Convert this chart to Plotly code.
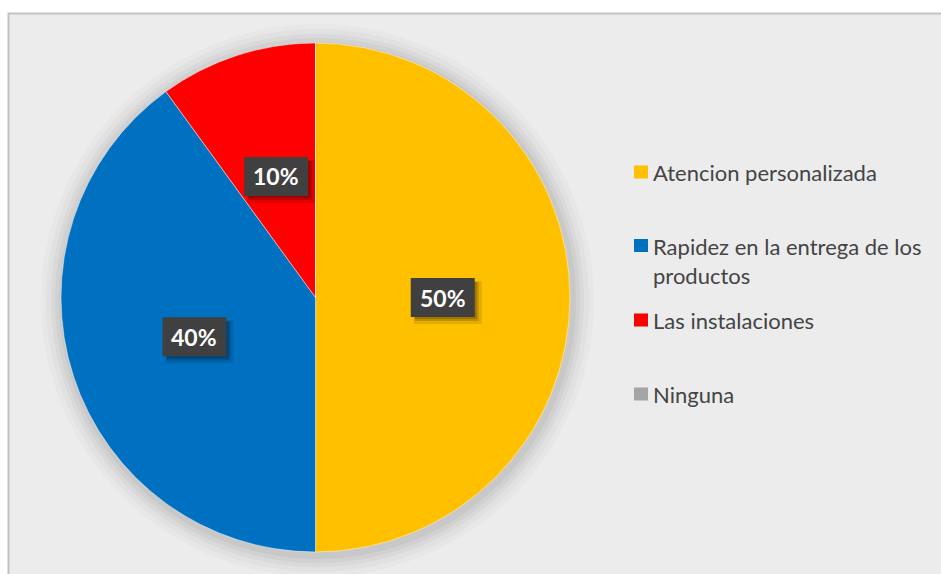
import numpy as np
import plotly.graph_objects as go

# Survey answers and their shares
categories = ["Atencion personalizada", "Rapidez en la entrega de los productos",
              "Las instalaciones", "Ninguna"]
legend_text = ["Atencion personalizada", "Rapidez en la entrega de los<br>productos",
               "Las instalaciones", "Ninguna"]
shares = [50, 40, 10, 0]
colors = ["#FFC000", "#0070C0", "#FF0000", "#A5A5A5"]

W, H = 941, 574
FONT = "Lato, 'Open Sans', sans-serif"

# pie geometry in pixels
cx, cy, R = 315.5, 297.5, 254.5


def px(x):
    return x / W


def py(y):
    return 1 - y / H


fig = go.Figure()
fig.add_trace(go.Pie(
    labels=categories,
    values=shares,
    marker=dict(colors=colors, line=dict(color="rgba(255,255,255,0.45)", width=1)),
    sort=False,
    direction="clockwise",
    rotation=0,
    textinfo="none",
    hoverinfo="label+percent",
    showlegend=False,
    domain=dict(x=[px(cx - R), px(cx + R)], y=[py(cy + R), py(cy - R)]),
))

shapes = []
# chart area frame
shapes.append(dict(type="rect", xref="paper", yref="paper", layer="below",
                   x0=px(8.5), x1=1.02, y0=-0.02, y1=py(13.5),
                   fillcolor="#ECECEC", line=dict(color="#C2C2C2", width=2)))
# soft shadow around the pie
for grow, alpha in [(22, 0.02), (17, 0.025), (12, 0.03), (8, 0.035), (4, 0.045)]:
    r = R + grow
    shapes.append(dict(type="circle", xref="paper", yref="paper", layer="below",
                       x0=px(cx - r + 2), x1=px(cx + r + 2),
                       y0=py(cy + r + 3), y1=py(cy - r + 3),
                       fillcolor=f"rgba(0,0,0,{alpha})", line=dict(width=0)))

annotations = []
# value labels at half radius along each slice's mid angle
BW, BH = 64, 39
vals = np.array(shares, dtype=float)
frac = vals / vals.sum()
ends = np.cumsum(frac)
starts = ends - frac
for f, s, e in zip(frac, starts, ends):
    if f <= 0:
        continue
    ang = 2 * np.pi * (s + e) / 2
    lx = cx + 0.5 * R * np.sin(ang)
    ly = cy - 0.5 * R * np.cos(ang)
    # box drop shadow, then the dark box
    for off, grow, a in [(5, 2, 0.10), (4, 0, 0.16), (3, -1, 0.18)]:
        shapes.append(dict(type="rect", xref="paper", yref="paper", layer="above",
                           x0=px(lx - BW / 2 + off - grow), x1=px(lx + BW / 2 + off + grow),
                           y0=py(ly + BH / 2 + off + grow), y1=py(ly - BH / 2 + off - grow),
                           fillcolor=f"rgba(0,0,0,{a})", line=dict(width=0)))
    shapes.append(dict(type="rect", xref="paper", yref="paper", layer="above",
                       x0=px(lx - BW / 2), x1=px(lx + BW / 2),
                       y0=py(ly + BH / 2), y1=py(ly - BH / 2),
                       fillcolor="#404040", line=dict(width=0)))
    annotations.append(dict(x=px(lx), y=py(ly), xref="paper", yref="paper",
                            xanchor="center", yanchor="middle",
                            text=f"<b>{f * 100:.0f}%</b>", showarrow=False,
                            font=dict(family=FONT, size=23, color="white")))

# legend drawn beside the pie
legend_rows = [172, 245.5, 320, 394]
line_h = 30
for txt, col, yc in zip(legend_text, colors, legend_rows):
    shapes.append(dict(type="rect", xref="paper", yref="paper",
                       x0=px(634), x1=px(648), y0=py(yc + 6.5), y1=py(yc - 6.5),
                       fillcolor=col, line=dict(width=0)))
    annotations.append(dict(x=px(651), y=py(yc - line_h / 2), xref="paper", yref="paper",
                            text=txt, showarrow=False, xanchor="left", yanchor="top",
                            align="left",
                            font=dict(family=FONT, size=22, color="#444444")))

fig.update_layout(
    width=W, height=H,
    margin=dict(l=0, r=0, t=0, b=0),
    paper_bgcolor="white",
    plot_bgcolor="white",
    shapes=shapes,
    annotations=annotations,
)

fig.write_html("out.html")
